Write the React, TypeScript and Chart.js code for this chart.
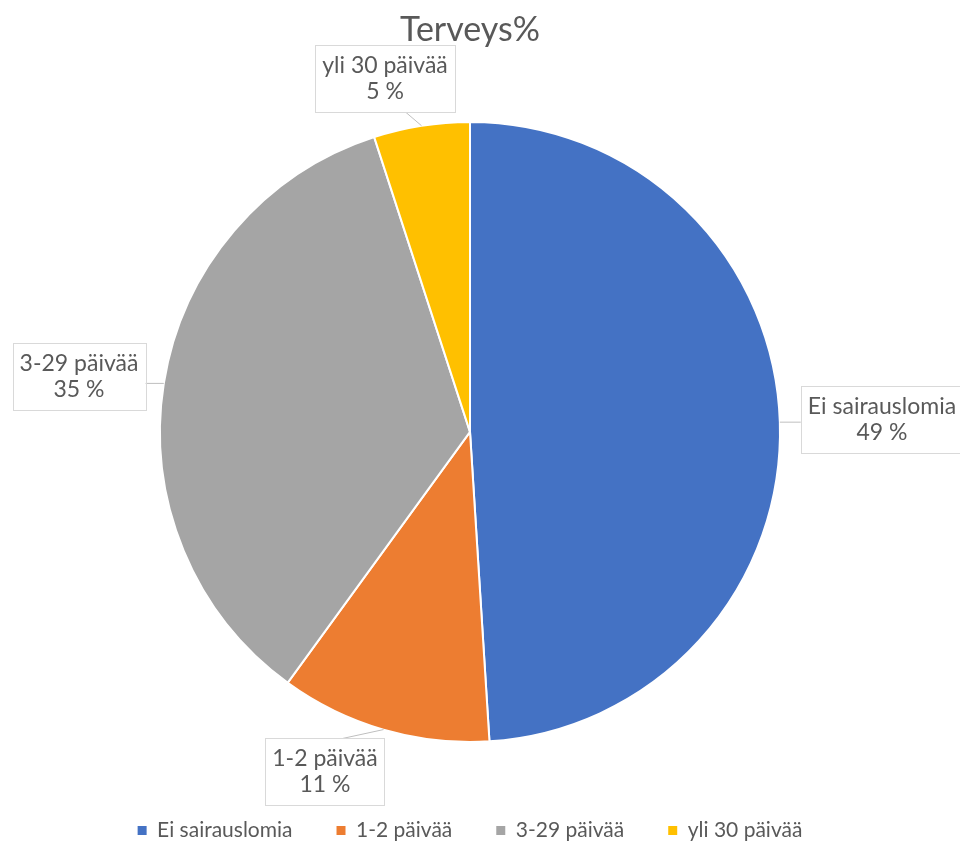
import React, { useEffect, useRef } from "react";
import { Chart, registerables } from "chart.js";

Chart.register(...registerables);

// ---- data ----
const categories = ["Ei sairauslomia", "1-2 päivää", "3-29 päivää", "yli 30 päivää"];
const values = [49, 11, 35, 5];
const valueLabels = ["49 %", "11 %", "35 %", "5 %"];
const colors = ["#4472C4", "#ED7D31", "#A5A5A5", "#FFC000"];
const titleText = "Terveys%";

// ---- layout of callout boxes (centre offsets from pie centre, px) ----
const calloutOffsets: [number, number][] = [
  [412, -12],
  [-145, 340],
  [-391, -55],
  [-85, -353],
];

const FONT = "Lato";
const TEXT_COLOR = "#595959";

const calloutPlugin = {
  id: "callouts",
  afterDatasetsDraw(chart: any) {
    const ctx: CanvasRenderingContext2D = chart.ctx;
    const meta = chart.getDatasetMeta(0);
    ctx.save();
    ctx.font = `23px ${FONT}`;
    meta.data.forEach((arc: any, i: number) => {
      const { x, y, startAngle, endAngle, outerRadius } = arc.getProps(
        ["x", "y", "startAngle", "endAngle", "outerRadius"],
        true
      );
      const mid = (startAngle + endAngle) / 2;
      const ax = x + Math.cos(mid) * outerRadius;
      const ay = y + Math.sin(mid) * outerRadius;
      const cx = x + calloutOffsets[i][0];
      const cy = y + calloutOffsets[i][1];
      const lines = [categories[i], valueLabels[i]];
      const w = Math.max(...lines.map((l) => ctx.measureText(l).width)) + 14;
      const h = 67;
      const left = cx - w / 2;
      const top = cy - h / 2;
      // leader line from box edge to slice edge
      let lx: number;
      let ly: number;
      if (ax < left || ax > left + w) {
        lx = ax < left ? left : left + w;
        ly = Math.max(top + h * 0.3, Math.min(ay, top + h * 0.7));
      } else {
        ly = ay < top ? top : top + h;
        lx = Math.max(left + w * 0.3, Math.min(ax, left + w * 0.65));
      }
      ctx.strokeStyle = "#BFBFBF";
      ctx.lineWidth = 1;
      ctx.beginPath();
      ctx.moveTo(lx, ly);
      ctx.lineTo(ax, ay);
      ctx.stroke();
      // box
      ctx.fillStyle = "#FFFFFF";
      ctx.fillRect(left, top, w, h);
      ctx.strokeStyle = "#D9D9D9";
      ctx.strokeRect(Math.round(left) + 0.5, Math.round(top) + 0.5, Math.round(w), Math.round(h));
      // text
      ctx.fillStyle = TEXT_COLOR;
      ctx.textAlign = "center";
      ctx.textBaseline = "middle";
      ctx.fillText(lines[0], cx, cy - 13);
      ctx.fillText(lines[1], cx, cy + 13);
    });
    ctx.restore();
  },
};

export default function App() {
  const canvasRef = useRef<HTMLCanvasElement | null>(null);

  useEffect(() => {
    if (!canvasRef.current) return;
    const chart = new Chart(canvasRef.current, {
      type: "pie",
      data: {
        labels: categories,
        datasets: [
          {
            data: values,
            backgroundColor: colors,
            borderColor: "#FFFFFF",
            borderWidth: 2,
            radius: 310,
          } as any,
        ],
      },
      options: {
        responsive: false,
        animation: false,
        devicePixelRatio: 1,
        layout: { padding: { left: 0, right: 20, top: 0, bottom: -8 } },
        plugins: {
          title: {
            display: true,
            text: titleText,
            color: TEXT_COLOR,
            font: { family: FONT, size: 34, weight: "normal" as any },
            padding: { top: 10, bottom: 37 },
          },
          legend: {
            position: "bottom",
            labels: {
              boxWidth: 9,
              boxHeight: 9,
              padding: 44,
              color: TEXT_COLOR,
              font: { family: FONT, size: 21 },
              generateLabels: (c: any) => {
                const base = (Chart as any).overrides.pie.plugins.legend.labels.generateLabels(c);
                return base.map((it: any) => ({ ...it, lineWidth: 0, strokeStyle: it.fillStyle }));
              },
            },
          },
          tooltip: { enabled: false },
        },
      },
      plugins: [calloutPlugin],
    });
    return () => chart.destroy();
  }, []);

  return (
    <div style={{ position: "fixed", left: 0, top: 0, width: 960, height: 843, background: "#fff" }}>
      <canvas ref={canvasRef} width={960} height={843} />
    </div>
  );
}
